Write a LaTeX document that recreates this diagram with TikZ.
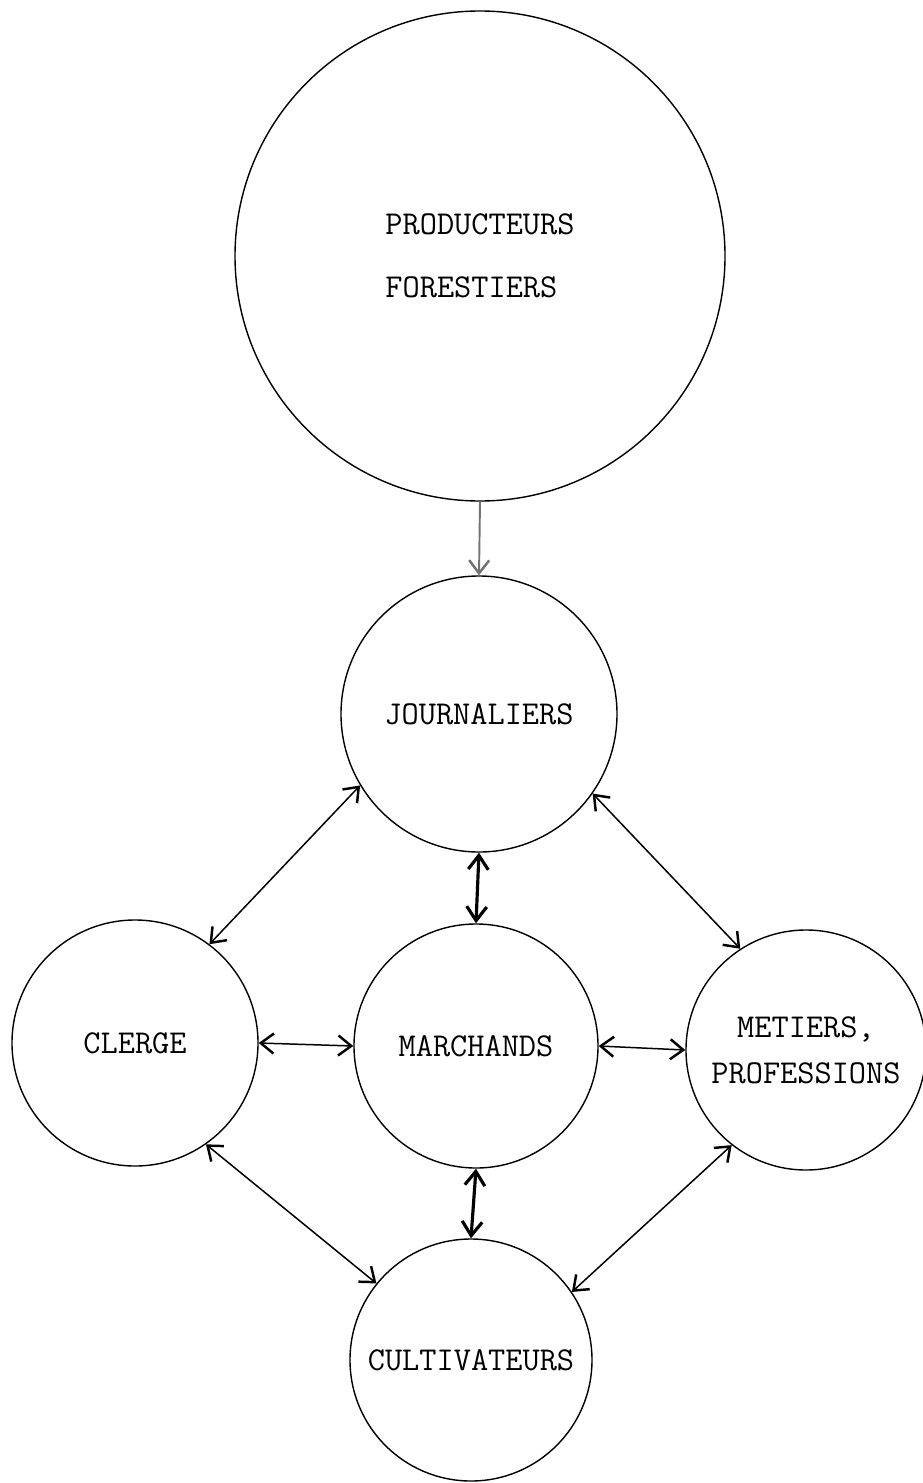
\documentclass[tikz,border=0pt]{standalone}
\usetikzlibrary{arrows.meta}

\begin{document}
\begin{tikzpicture}[
  x=0.2mm, y=-0.2mm,
  group/.style={circle, draw, line width=0.8pt, inner sep=0pt, align=center, font=\ttfamily\fontsize{19}{26}\selectfont},
  link/.style={{Straight Barb[length=2.6mm, width=4mm, line width=1.4pt]}-{Straight Barb[length=2.6mm, width=4mm, line width=1.4pt]}, line width=0.85pt},
  mainlink/.style={{Straight Barb[length=2.8mm, width=4mm, line width=1.8pt]}-{Straight Barb[length=2.8mm, width=4mm, line width=1.8pt]}, line width=1.8pt},
  feed/.style={-{Straight Barb[length=2.6mm, width=4mm, line width=1.4pt]}, line width=1.1pt, black!55}
]
\useasboundingbox (0,0) rectangle (922,1483);

% ===== Groups =====
\node[group, minimum size=98mm, align=left] (prod) at (480,256) {PRODUCTEURS\\[10pt]FORESTIERS};
\node[group, minimum size=55.2mm] (journ)   at (479,714)  {JOURNALIERS};
\node[group, minimum size=49.2mm] (clerge)  at (135,1043) {CLERGE};
\node[group, minimum size=48.8mm] (march)   at (476,1046) {MARCHANDS};
\node[group, minimum size=48mm]   (metiers) at (806,1050) {METIERS,\\PROFESSIONS};
\node[group, minimum size=48.4mm] (cult)    at (471,1360) {CULTIVATEURS};

% ===== Exchanges =====
\draw[feed] (prod.south) -- (journ.north);
\foreach \a/\b in {journ.211/clerge.53, journ.325/metiers.123, clerge.east/march.west,
                   march.east/metiers.west, clerge.305/cult.141, metiers.232/cult.34}
  \draw[link] (\a) -- (\b);
\draw[mainlink] (journ.south) -- (march.north);
\draw[mainlink] (march.south) -- (cult.north);

\end{tikzpicture}
\end{document}
